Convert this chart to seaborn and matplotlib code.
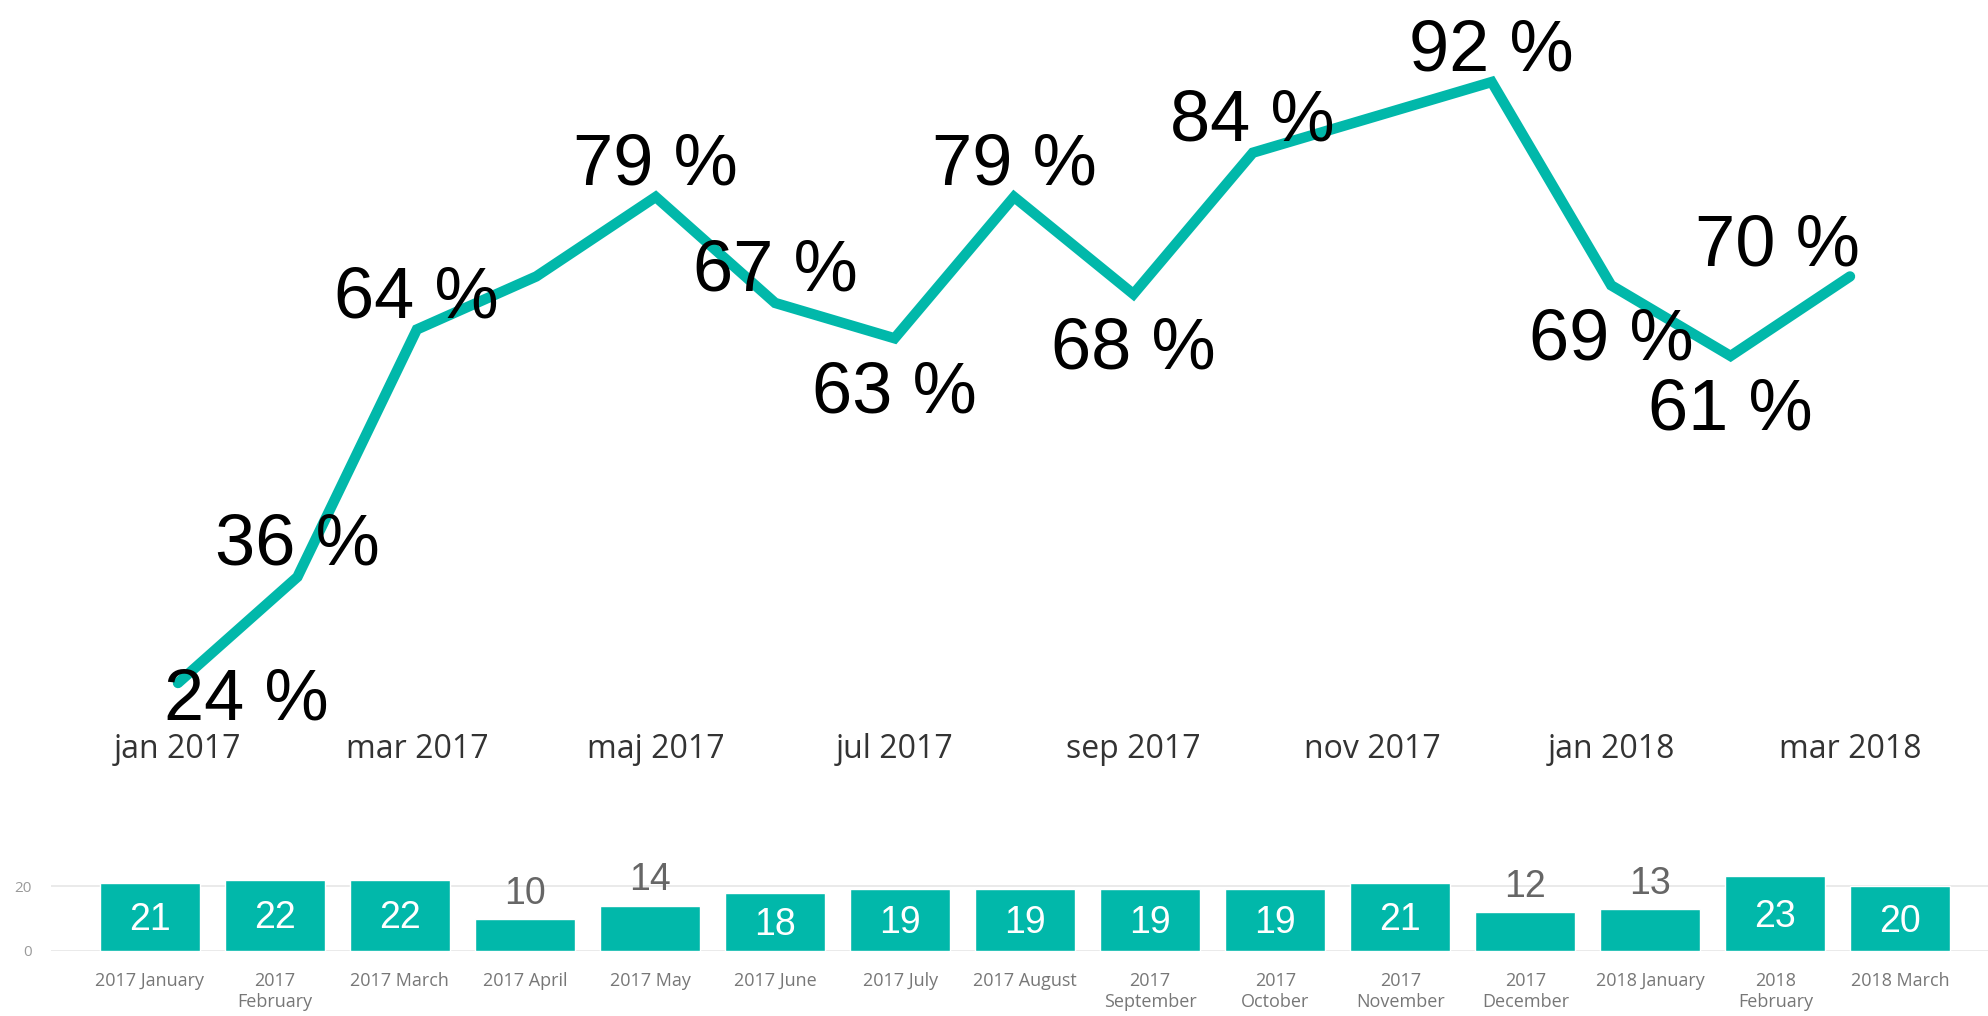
import matplotlib
matplotlib.use('Agg')
import matplotlib.pyplot as plt
import pandas as pd
import seaborn as sns

# monthly share (line) and monthly counts (bars)
months = ['jan 2017', 'feb 2017', 'mar 2017', 'apr 2017', 'maj 2017', 'jun 2017',
          'jul 2017', 'aug 2017', 'sep 2017', 'okt 2017', 'nov 2017', 'dec 2017',
          'jan 2018', 'feb 2018', 'mar 2018']
share_pct = [24, 36, 64, 70, 79, 67, 63, 79, 68, 84, 88, 92, 69, 61, 70]
label_side = ['start', 'above', 'above', None, 'above', 'above', 'below', 'above',
              'below', 'above', None, 'above', 'below', 'below', 'end']

bar_labels = ['2017 January', '2017\nFebruary', '2017 March', '2017 April', '2017 May',
              '2017 June', '2017 July', '2017 August', '2017\nSeptember', '2017\nOctober',
              '2017\nNovember', '2017\nDecember', '2018 January', '2018\nFebruary',
              '2018 March']
bar_counts = [21, 22, 22, 10, 14, 18, 19, 19, 19, 19, 21, 12, 13, 23, 20]

TEAL = '#01B8AA'
W, H = 1988, 1016

sns.set_style('white')
plt.rcParams['font.family'] = ['Liberation Sans', 'DejaVu Sans']

fig = plt.figure(figsize=(W / 100, H / 100), dpi=100)

# ---- line chart
ax = fig.add_axes([178 / W, (H - 683) / H, (1850 - 178) / W, (683 - 82) / H])
df_line = pd.DataFrame({'pos': range(len(months)), 'share': share_pct})
sns.lineplot(data=df_line, x='pos', y='share', ax=ax, color=TEAL, linewidth=7.5)
for ln in ax.lines:
    ln.set_solid_capstyle('round')
    ln.set_solid_joinstyle('miter')
    ln.set_clip_on(False)
ax.set_xlim(0, len(months) - 1)
ax.set_ylim(24, 92)

# label offsets in pixels (dx, dy) and alignment
offsets = {'above': ((0, 12), 'center'),
           'below': ((0, -74), 'center'),
           'start': ((-14, -37), 'left'),
           'end': ((10, 11), 'right')}
for i, (v, side) in enumerate(zip(share_pct, label_side)):
    if side is None:
        continue
    (dx, dy), ha = offsets[side]
    ax.annotate('{} %'.format(v), (i, v), xytext=(dx, dy), textcoords='offset pixels',
                ha=ha, va='baseline', fontsize=52, color='black', annotation_clip=False)

ax.set_xticks(range(0, len(months), 2))
ax.set_xticklabels(months[::2], fontsize=23, color='#333333',
                   family=['Open Sans', 'DejaVu Sans'])
ax.tick_params(axis='x', length=0, pad=36)
ax.set_yticks([])
ax.set_xlabel('')
ax.set_ylabel('')
sns.despine(ax=ax, left=True, bottom=True)

# ---- bar chart
bx = fig.add_axes([51 / W, (H - 951) / H, (W - 51) / W, 84.5 / H])
df_bar = pd.DataFrame({'month': bar_labels, 'count': bar_counts})
sns.barplot(data=df_bar, x='month', y='count', ax=bx, color=TEAL, width=0.8,
            saturation=1)
bx.set_xlim(-0.79, 14.7)
bx.set_ylim(0, 26)
bx.set_yticks([0, 20])
bx.grid(True, axis='y', color='#e6e6e6', linewidth=1.2)
bx.set_axisbelow(True)
bx.set_xlabel('')
bx.set_ylabel('')
sns.despine(ax=bx, left=True, bottom=True)
bx.tick_params(axis='x', length=0, pad=15, labelsize=13, labelcolor='#777777')
bx.tick_params(axis='y', length=0, pad=14, labelsize=11, labelcolor='#9a9a9a')
for lbl in bx.get_xticklabels() + bx.get_yticklabels():
    lbl.set_family(['Open Sans', 'DejaVu Sans'])

for i, v in enumerate(bar_counts):
    if v >= 15:
        bx.annotate(str(v), (i, v / 2), xytext=(0, -13), textcoords='offset pixels',
                    ha='center', va='baseline', fontsize=27, color='white')
    else:
        bx.annotate(str(v), (i, v), xytext=(0, 15), textcoords='offset pixels',
                    ha='center', va='baseline', fontsize=27, color='#666666',
                    annotation_clip=False)

fig.savefig('out.png', dpi=100)
